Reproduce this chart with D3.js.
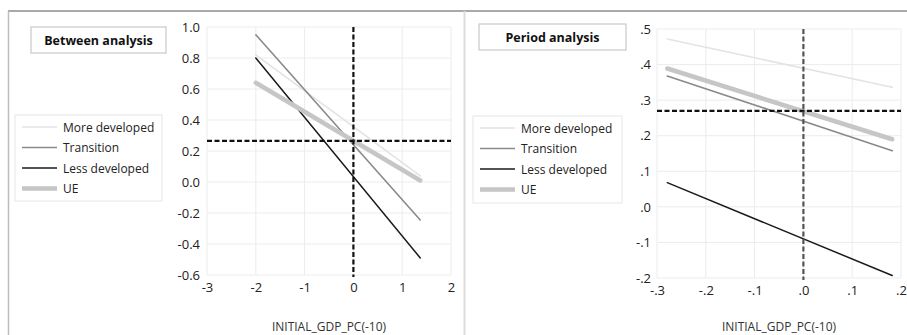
<!DOCTYPE html>
<html><head><meta charset="utf-8">
<script src="https://cdn.jsdelivr.net/npm/d3@7"></script>
<style>body{margin:0;background:#fff;}svg{display:block;font-family:"Open Sans",sans-serif;}</style>
</head><body><svg id="c" width="907" height="335"></svg>
<script>
// ---- data ----
const seriesNames = ["More developed","Transition","Less developed","UE"];
// Between analysis: x endpoints and y endpoints
const betweenX = [-2, 1.37];
const betweenMore = [0.82, 0.04];
const betweenTransition = [0.95, -0.245];
const betweenLess = [0.80, -0.49];
const betweenUE = [0.64, 0.01];
const betweenRefX = 0;
const betweenRefY = 0.265;
const betweenXTicks = [-3,-2,-1,0,1,2];
const betweenYTicks = [-0.6,-0.4,-0.2,0.0,0.2,0.4,0.6,0.8,1.0];
// Period analysis
const periodX = [-0.279, 0.182];
const periodMore = [0.472, 0.336];
const periodTransition = [0.368, 0.158];
const periodLess = [0.068, -0.193];
const periodUE = [0.389, 0.19];
const periodRefX = 0;
const periodRefY = 0.27;
const periodXTicks = [-0.3,-0.2,-0.1,0.0,0.1,0.2];
const periodYTicks = [-0.2,-0.1,0.0,0.1,0.2,0.3,0.4,0.5];

const styles = {
  "More developed": {c:"#e3e3e3", w:1.6},
  "Transition": {c:"#8a8a8a", w:1.6},
  "Less developed": {c:"#1a1a1a", w:1.5},
  "UE": {c:"#c6c6c6", w:4.5}
};

const svg = d3.select("#c");
// frame lines
svg.append("line").attr("x1",8).attr("x2",907).attr("y1",11).attr("y2",11).attr("stroke","#8c8c8c").attr("stroke-width",1.5);
svg.append("line").attr("x1",8.5).attr("x2",8.5).attr("y1",11).attr("y2",335).attr("stroke","#bdbdbd").attr("stroke-width",1.5);
svg.append("line").attr("x1",464.5).attr("x2",464.5).attr("y1",11).attr("y2",335).attr("stroke","#dcdcdc").attr("stroke-width",2);

const hy = s => s.replace(/\u2212/g,"-");
const fmtBetweenY = d => hy(d3.format(".1f")(d));
const fmtBetweenX = d => hy(d3.format(".0f")(d));
const fmtPeriod = d => hy(d3.format(".1f")(d)).replace(/^(-?)0\./,"$1.");

function panel(o){
  const x = d3.scaleLinear().domain(o.xdom).range(o.xr);
  const y = d3.scaleLinear().domain(o.ydom).range(o.yr);
  const g = svg.append("g");
  // gridlines
  g.append("g").selectAll("line").data(o.yTicks).join("line")
    .attr("x1",o.xr[0]).attr("x2",o.xr[1]).attr("y1",d=>y(d)).attr("y2",d=>y(d))
    .attr("stroke","#ececec").attr("stroke-width",1);
  g.append("g").selectAll("line").data(o.xTicks).join("line")
    .attr("x1",d=>x(d)).attr("x2",d=>x(d)).attr("y1",o.yr[1]).attr("y2",o.yr[0])
    .attr("stroke","#ececec").attr("stroke-width",1);
  // axes (text only)
  const ya = g.append("g").attr("transform",`translate(${o.xr[0]},0)`)
    .call(d3.axisLeft(y).tickValues(o.yTicks).tickFormat(o.yfmt).tickSize(0).tickPadding(o.ypad));
  ya.select(".domain").remove();
  ya.selectAll("text").attr("font-size",13).attr("fill","#222").attr("font-family","'Open Sans',sans-serif");
  const xa = g.append("g").attr("transform",`translate(0,${o.yr[0]})`)
    .call(d3.axisBottom(x).tickValues(o.xTicks).tickFormat(o.xfmt).tickSize(0).tickPadding(8));
  xa.select(".domain").remove();
  xa.selectAll("text").attr("font-size",13).attr("fill","#222").attr("font-family","'Open Sans',sans-serif");
  g.append("text").attr("x",(o.xr[0]+o.xr[1])/2).attr("y",331).attr("text-anchor","middle")
    .attr("font-size",12).attr("fill","#333").text("INITIAL_GDP_PC(-10)");
  // series
  const line = d3.line().x(d=>x(d[0])).y(d=>y(d[1]));
  o.series.forEach((s,i)=>{
    const pts = o.xs.map((xv,j)=>[xv,s[j]]);
    const st = styles[seriesNames[i]];
    g.append("path").attr("d",line(pts)).attr("fill","none").attr("stroke",st.c)
      .attr("stroke-width",st.w).attr("stroke-linecap","round");
  });
  // reference dashed lines
  g.append("line").attr("x1",o.xr[0]).attr("x2",o.xr[1]).attr("y1",y(o.refY)).attr("y2",y(o.refY))
    .attr("stroke","#111").attr("stroke-width",2.2).attr("stroke-dasharray","5,2.5");
  g.append("line").attr("x1",x(o.refX)).attr("x2",x(o.refX)).attr("y1",o.yr[1]).attr("y2",o.yr[0]+2)
    .attr("stroke",o.vcol).attr("stroke-width",2.2).attr("stroke-dasharray","5,2.5");
  // title box
  const tb = o.title;
  g.append("rect").attr("x",tb.x).attr("y",tb.y).attr("width",tb.w).attr("height",tb.h)
    .attr("fill","#fff").attr("stroke","#c8c8c8").attr("stroke-width",1.2);
  g.append("text").attr("x",tb.x+tb.w/2).attr("y",tb.y+tb.h/2+4.5).attr("text-anchor","middle")
    .attr("font-size",12.5).attr("font-weight","bold").attr("fill","#111").text(tb.text);
  // legend
  const lg = o.legend;
  g.append("rect").attr("x",lg.x).attr("y",lg.y).attr("width",lg.w).attr("height",lg.h)
    .attr("fill","#fff").attr("stroke","#e6e6e6").attr("stroke-width",1);
  seriesNames.forEach((n,i)=>{
    const yy = lg.y+12+i*20.5;
    const st = styles[n];
    g.append("line").attr("x1",lg.x+7).attr("x2",lg.x+42).attr("y1",yy).attr("y2",yy)
      .attr("stroke",st.c).attr("stroke-width",n==="UE"?4.5:st.w);
    g.append("text").attr("x",lg.x+48).attr("y",yy+4.5).attr("font-size",12).attr("fill","#222").text(n);
  });
}

panel({
  xdom:[-3,2], xr:[207,451], ydom:[-0.6,1.0], yr:[275,27],
  xTicks:betweenXTicks, yTicks:betweenYTicks,
  xfmt:fmtBetweenX, yfmt:fmtBetweenY, ypad:7,
  xs:betweenX, series:[betweenMore,betweenTransition,betweenLess,betweenUE],
  refX:betweenRefX, refY:betweenRefY, vcol:"#111",
  title:{x:31,y:27,w:135,h:26,text:"Between analysis"},
  legend:{x:15,y:115,w:147,h:86}
});
panel({
  xdom:[-0.3,0.2], xr:[657,901], ydom:[-0.2,0.5], yr:[278,29],
  xTicks:periodXTicks, yTicks:periodYTicks,
  xfmt:fmtPeriod, yfmt:fmtPeriod, ypad:6,
  xs:periodX, series:[periodMore,periodTransition,periodLess,periodUE],
  refX:periodRefX, refY:periodRefY, vcol:"#555",
  title:{x:479,y:24,w:147,h:26,text:"Period analysis"},
  legend:{x:473,y:116,w:149,h:87}
});
</script></body></html>
